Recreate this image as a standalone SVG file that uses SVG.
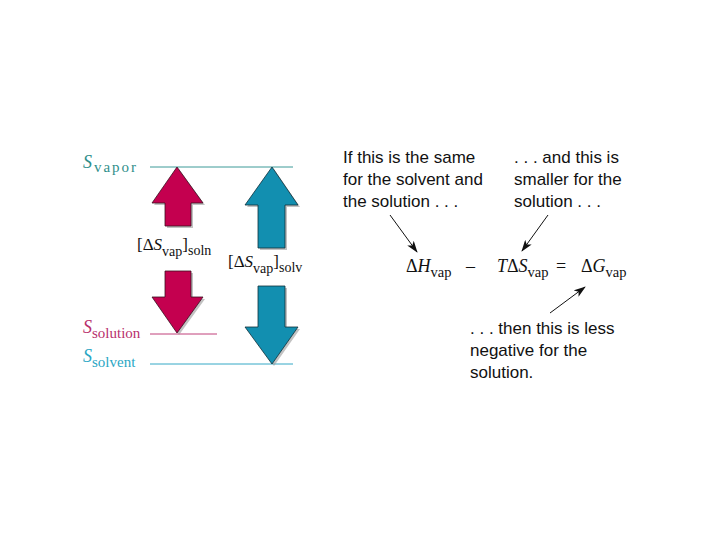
<svg xmlns="http://www.w3.org/2000/svg" width="720" height="540" viewBox="0 0 720 540">
<style>
.serif{font-family:"Liberation Serif","DejaVu Serif",serif;}
.sans{font-family:"Liberation Sans",Arial,sans-serif;font-size:17px;fill:#111;}
.it{font-style:italic;}
.lvl{font-size:18px;}
.lsub{font-size:15px;}
.lab{font-size:17px;fill:#111;}
.labs{font-size:14px;}
.eq{font-size:18px;fill:#111;}
.eqs{font-size:14.5px;}
.red{fill:#c4004f;stroke:#3a1020;stroke-width:0.8;}
.blue{fill:#128fb0;stroke:#10303a;stroke-width:0.8;}
.shadow{fill:#9a9a9a;opacity:0.6;}
.ptr{stroke:#111;stroke-width:1;fill:none;marker-end:url(#ah);}
</style>
<defs>
<marker id="ah" viewBox="0 0 12 8" refX="11" refY="4" markerWidth="12" markerHeight="8" markerUnits="userSpaceOnUse" orient="auto">
<path d="M0,0 L12,4 L0,8 L3,4 Z" fill="#111"/>
</marker>
</defs>
<rect width="720" height="540" fill="#fff"/>

<g id="levels">
<line x1="150" y1="167" x2="293" y2="167" stroke="#3d9a98" stroke-width="1"/>
<line x1="150" y1="334" x2="217" y2="334" stroke="#c0407a" stroke-width="1"/>
<line x1="150" y1="364" x2="293" y2="364" stroke="#35a8c6" stroke-width="1"/>
</g>

<g id="label-vapor" class="serif" fill="#2e8e8a">
<text x="83" y="168" class="lvl"><tspan class="it">S</tspan><tspan class="lsub" dx="2" dy="4" textLength="42">vapor</tspan></text>
</g>
<g id="label-solution" class="serif" fill="#b8306c">
<text x="83" y="333" class="lvl"><tspan class="it">S</tspan><tspan class="lsub" dy="5">solution</tspan></text>
</g>
<g id="label-solvent" class="serif" fill="#2aa6c4">
<text x="83" y="362" class="lvl"><tspan class="it">S</tspan><tspan class="lsub" dy="5">solvent</tspan></text>
</g>

<g id="arrow-soln-up">
<polygon class="shadow" points="179,169 205,205 193,205 193,228 167,228 167,205 154,205"/>
<polygon class="red" points="177,167 203,203 191,203 191,226 165,226 165,203 152,203"/>
</g>
<g id="arrow-soln-down">
<polygon class="shadow" points="167,273 193,273 193,299 205,299 179,335 154,299 167,299"/>
<polygon class="red" points="165,271 191,271 191,297 203,297 177,333 152,297 165,297"/>
</g>
<g id="arrow-solv-up">
<polygon class="shadow" points="274,169 300,207 287,207 287,250 260,250 260,207 247,207"/>
<polygon class="blue" points="272,167 298,205 285,205 285,248 258,248 258,205 245,205"/>
</g>
<g id="arrow-solv-down">
<polygon class="shadow" points="260,288 287,288 287,329 300,329 274,366 247,329 260,329"/>
<polygon class="blue" points="258,286 285,286 285,327 298,327 272,364 245,327 258,327"/>
</g>

<g id="label-dS-soln" class="serif">
<text x="137" y="250" class="lab">[Δ<tspan class="it">S</tspan><tspan class="labs" dy="6">vap</tspan><tspan dy="-6">]</tspan><tspan class="labs" dy="5">soln</tspan></text>
</g>
<g id="label-dS-solv" class="serif">
<text x="228" y="267" class="lab">[Δ<tspan class="it">S</tspan><tspan class="labs" dy="6">vap</tspan><tspan dy="-6">]</tspan><tspan class="labs" dy="5">solv</tspan></text>
</g>

<g id="equation" class="serif">
<text x="406" y="272" class="eq">Δ<tspan class="it">H</tspan><tspan class="eqs" dy="5">vap</tspan></text>
<text x="466" y="272" class="eq">–</text>
<text x="497" y="272" class="eq"><tspan class="it">T</tspan>Δ<tspan class="it">S</tspan><tspan class="eqs" dy="5">vap</tspan></text>
<text x="556" y="272" class="eq">=</text>
<text x="581" y="272" class="eq">Δ<tspan class="it">G</tspan><tspan class="eqs" dy="5">vap</tspan></text>
</g>

<g id="note-H" class="sans">
<text x="343" y="163">If this is the same</text>
<text x="343" y="185">for the solvent and</text>
<text x="343" y="207">the solution . . .</text>
</g>
<g id="note-S" class="sans">
<text x="514" y="163">. . . and this is</text>
<text x="514" y="185">smaller for the</text>
<text x="514" y="207">solution . . .</text>
</g>
<g id="note-G" class="sans">
<text x="470" y="334">. . . then this is less</text>
<text x="470" y="356">negative for the</text>
<text x="470" y="378">solution.</text>
</g>

<g id="connectors">
<line class="ptr" x1="390" y1="215" x2="417" y2="252"/>
<line class="ptr" x1="548" y1="215" x2="522" y2="251"/>
<line class="ptr" x1="550" y1="313" x2="585" y2="287"/>
</g>
</svg>
